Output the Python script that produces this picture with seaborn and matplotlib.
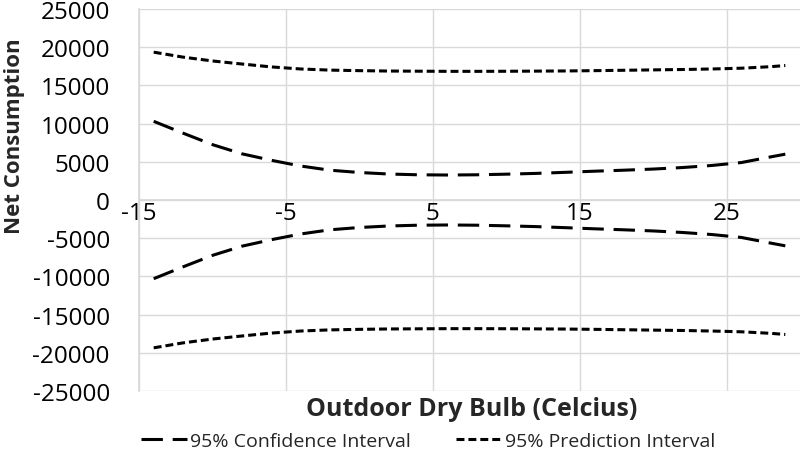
import numpy as np
import pandas as pd
import matplotlib
matplotlib.use("Agg")
import matplotlib.pyplot as plt
import seaborn as sns
from matplotlib.lines import Line2D

sns.set_theme(style="white")
plt.rcParams['font.family'] = ['Open Sans', 'DejaVu Sans']

# ---- data ----
temp = [-14, -12, -10, -8, -6, -4, -2, 0, 2, 4, 6, 8, 10, 12, 14, 16, 18, 20, 22, 24, 26, 28, 29]
ci_upper = [10300, 8750, 7250, 6050, 5200, 4450, 3900, 3600, 3400, 3300, 3270, 3300, 3380, 3480,
            3620, 3770, 3900, 4050, 4250, 4520, 4900, 5640, 6000]
ci_lower = [-10300, -8750, -7250, -6050, -5200, -4450, -3900, -3600, -3400, -3300, -3270, -3300, -3380, -3480,
            -3620, -3770, -3900, -4050, -4250, -4520, -4900, -5640, -6000]
pi_upper = [19350, 18700, 18200, 17800, 17420, 17150, 17000, 16930, 16880, 16860, 16840, 16840, 16850,
            16870, 16890, 16930, 16980, 17030, 17080, 17150, 17250, 17450, 17600]
pi_lower = [-19350, -18700, -18200, -17800, -17420, -17150, -17000, -16930, -16880, -16860, -16840, -16840, -16850,
            -16870, -16890, -16930, -16980, -17030, -17080, -17150, -17250, -17450, -17600]

x_ticks = [-15, -5, 5, 15, 25]
y_ticks = list(range(-25000, 25001, 5000))

df = pd.DataFrame({'temp': temp, 'ci_up': ci_upper, 'ci_lo': ci_lower,
                   'pi_up': pi_upper, 'pi_lo': pi_lower})

# ---- figure ----
fig = plt.figure(figsize=(8, 4.6), dpi=100)
ax = fig.add_axes([139 / 800, 68 / 460, 661 / 800, 382 / 460])

lw = 2.2
ci_style = (0, (7, 3.2))
pi_style = (0, (2.6, 1.3))
for col, ls in [('ci_up', ci_style), ('ci_lo', ci_style), ('pi_up', pi_style), ('pi_lo', pi_style)]:
    sns.lineplot(data=df, x='temp', y=col, ax=ax, color='black', lw=lw, linestyle=ls,
                 dash_capstyle='butt')

grid_c = '#d9d9d9'
ax.set_xlim(-15, 30)
ax.set_ylim(-25000, 25000)
ax.set_xticks(x_ticks)
ax.set_yticks(y_ticks)
ax.set_xticklabels([str(t) for t in x_ticks])
ax.set_yticklabels([str(t) for t in y_ticks])
ax.grid(True, color=grid_c, lw=1)
ax.set_axisbelow(True)

# x axis crosses at zero, like the original
for s in ['top', 'right']:
    ax.spines[s].set_visible(False)
ax.spines['left'].set_color(grid_c)
ax.spines['bottom'].set_position(('data', 0))
ax.spines['bottom'].set_color(grid_c)
ax.tick_params(axis='both', length=0, labelsize=17.5, colors='black')
ax.tick_params(axis='x', pad=1)
ax.tick_params(axis='y', pad=21)

ax.set_xlabel('')
ax.set_ylabel('')
fig.text((306 + 637) / 2 / 800, 1 - 410 / 460, 'Outdoor Dry Bulb (Celcius)', ha='center', va='center',
         fontsize=18, fontweight='bold')
fig.text(15 / 800, 1 - 136 / 460, 'Net Consumption', ha='center', va='center', rotation=90,
         fontsize=16, fontweight='bold')

handles = [Line2D([], [], color='black', lw=lw, linestyle=ci_style),
           Line2D([], [], color='black', lw=lw, linestyle=pi_style)]
fig.legend(handles, ['95% Confidence Interval', '95% Prediction Interval'],
           loc='center', bbox_to_anchor=(428 / 800, 1 - 442 / 460), ncol=2, frameon=False,
           fontsize=14, handlelength=2.4, handletextpad=0.15, columnspacing=2.3)

fig.savefig('out.png', dpi=100)
